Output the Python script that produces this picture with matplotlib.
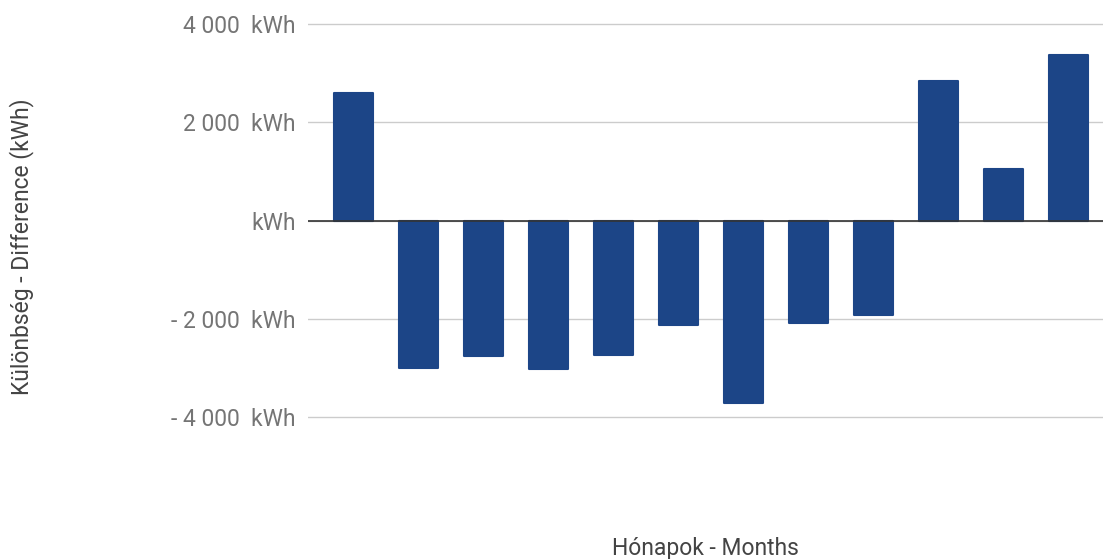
"""Monthly energy difference bar chart (kWh)."""

import matplotlib

matplotlib.use("Agg")

import matplotlib.pyplot as plt
import numpy as np

MONTHS = list(range(1, 13))
DIFFERENCE_KWH = [2600, -3000, -2750, -3010, -2730, -2120, -3700, -2090, -1920, 2840, 1050, 3365]
Y_TICKS = [-4000, -2000, 0, 2000, 4000]

BAR_COLOR = "#1c4587"
TEXT_COLOR = "#757575"
LABEL_COLOR = "#444444"


def kwh_label(value: float) -> str:
    if value == 0:
        return "kWh"
    sign = "- " if value < 0 else ""
    return f"{sign}{abs(value):,.0f}".replace(",", " ") + "  kWh"


plt.rcParams["font.family"] = ["Roboto", "DejaVu Sans"]

W, H = 1103, 559
fig = plt.figure(figsize=(W / 100, H / 100), dpi=100)
# plot area in pixels: left 308, right 1103, top 0, bottom ~516 (-6000)
ax = fig.add_axes([308 / W, (H - 515.6) / H, (W - 308) / W, 515.6 / H])

x = np.arange(len(MONTHS))
ax.bar(x, DIFFERENCE_KWH, width=0.6, color=BAR_COLOR, edgecolor=BAR_COLOR,
       linewidth=1.5, joinstyle="round", zorder=3)

ax.set_xlim(-0.70, 11.53)
ax.set_ylim(-6000, 4490)
ax.set_yticks(Y_TICKS, [kwh_label(v) for v in Y_TICKS])
ax.set_xticks([])

ax.grid(axis="y", color="#cccccc", linewidth=1, zorder=0)
ax.axhline(0, color="#333333", linewidth=1.2, zorder=4)
for side in ax.spines.values():
    side.set_visible(False)
ax.tick_params(axis="y", length=0, pad=9, labelsize=16.5, labelcolor=TEXT_COLOR)

fig.text(22 / W, 1 - 247 / H, "Különbség - Difference (kWh)", rotation=90,
         ha="center", va="center", fontsize=16.5, color=LABEL_COLOR)
fig.text(705 / W, 1 - 548 / H, "Hónapok - Months", ha="center", va="center",
         fontsize=16.5, color=LABEL_COLOR)

fig.savefig("out.png", dpi=100)
